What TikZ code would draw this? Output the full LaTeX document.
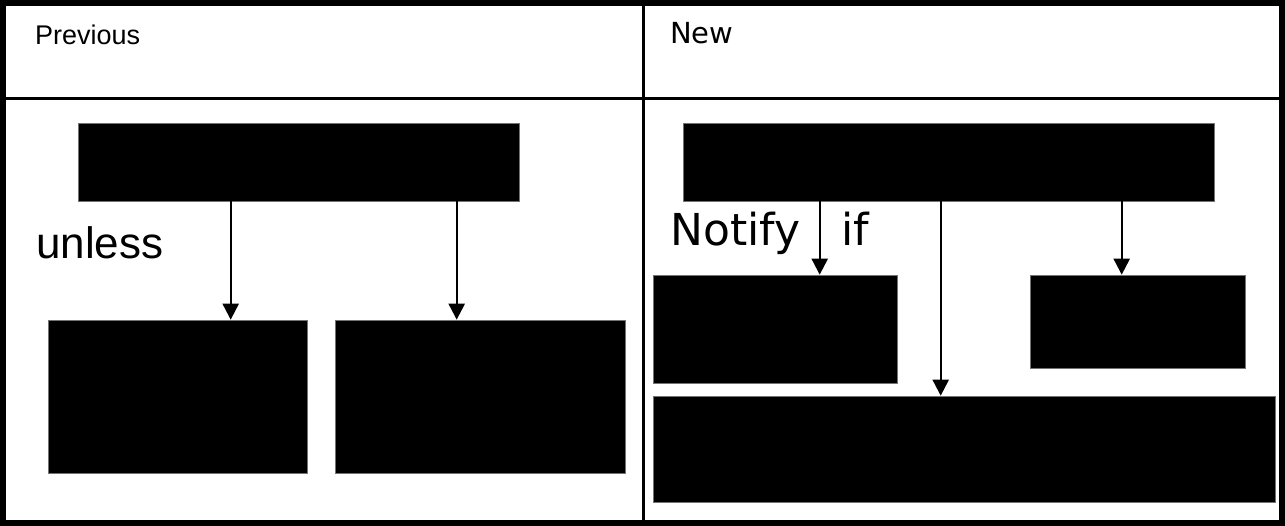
\documentclass[tikz,border=0pt]{standalone}
\usepackage{fontspec}
\setmainfont{Liberation Sans}
\newfontfamily\dejavu{DejaVu Sans}
\usetikzlibrary{arrows.meta}

\begin{document}
\begin{tikzpicture}[
  x=1pt, y=-1pt,
  box/.style={draw=black!55, line width=0.6pt, fill=black, inner sep=0pt},
  arr/.style={line width=2.2pt, -{Triangle[width=16pt, length=16pt]}},
  head/.style={inner sep=0pt, anchor=base west, font=\fontsize{27}{30}\selectfont},
  word/.style={inner sep=0pt, anchor=base west, font=\fontsize{44}{50}\selectfont}]
\useasboundingbox (0,0) rectangle (1285,526);
% table
\draw[line width=6pt] (3,3) rectangle (1282,523);
\draw[line width=3pt] (0,98.5) -- (1285,98.5);
\draw[line width=3pt] (643.5,0) -- (643.5,526);
\node[head] (hprev) at (35,45) {Previous};
\node[head, font=\dejavu\fontsize{29}{32}\selectfont] (hnew) at (670,44) {New};
% previous
\node[box, minimum width=441pt, minimum height=78pt] (ptop) at (298.5,162) {};
\node[box, minimum width=259pt, minimum height=153pt] (pleft) at (177.5,396.5) {};
\node[box, minimum width=290pt, minimum height=153pt] (pright) at (480,396.5) {};
\node[word] (unless) at (36,259) {unless};
\draw[arr] ([xshift=153pt]ptop.south west) coordinate (p1) -- (p1 |- pleft.north);
\draw[arr] ([xshift=379pt]ptop.south west) coordinate (p2) -- (p2 |- pright.north);
% new
\node[box, minimum width=531pt, minimum height=78pt] (ntop) at (948.5,162) {};
\node[box, minimum width=244pt, minimum height=108pt] (nleft) at (775,329) {};
\node[box, minimum width=215pt, minimum height=93pt] (nright) at (1137.5,321.5) {};
\node[box, minimum width=622pt, minimum height=106pt] (nbottom) at (964,449) {};
\node[word, font=\dejavu\fontsize{44}{50}\selectfont] (notify) at (670,246) {Notify};
\node[word, font=\dejavu\fontsize{44}{50}\selectfont] (if) at (841,246) {if};
\draw[arr] ([xshift=137pt]ntop.south west) coordinate (n1) -- (n1 |- nleft.north);
\draw[arr] ([xshift=258pt]ntop.south west) coordinate (n2) -- (n2 |- nbottom.north);
\draw[arr] ([xshift=439pt]ntop.south west) coordinate (n3) -- (n3 |- nright.north);
\end{tikzpicture}
\end{document}
